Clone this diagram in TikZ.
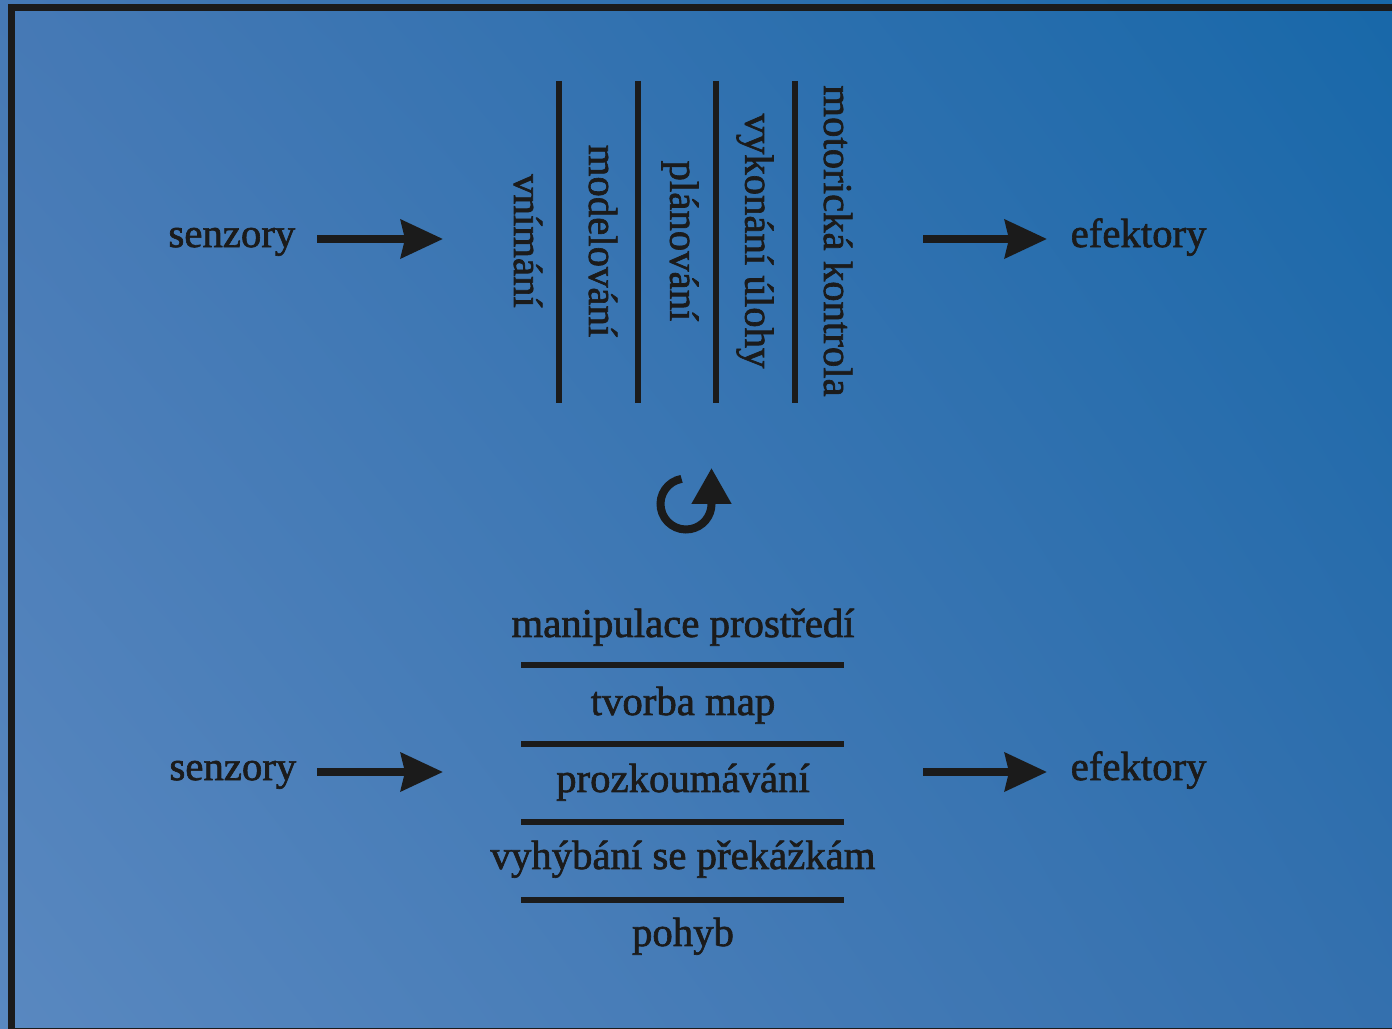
\documentclass[tikz,border=0pt]{standalone}
\usepackage{fontspec}
\setmainfont{Liberation Serif}[FakeBold=1.6]
\usetikzlibrary{arrows.meta,shadings}

\definecolor{ink}{RGB}{27,27,27}
\definecolor{bgTL}{RGB}{70,121,181}
\definecolor{bgTR}{RGB}{24,104,169}
\definecolor{bgBL}{RGB}{89,136,192}
\definecolor{bgBR}{RGB}{52,112,174}

\begin{document}
\begin{tikzpicture}[
    every node/.style={font=\fontsize{11.6}{14}\selectfont, text=ink, inner sep=0pt},
    lbl/.style={text height=1ex, text depth=0pt},
    vlbl/.style={rotate=-90},
    flow/.style={draw=ink, line width=0.08cm, -{Stealth[length=0.42cm, width=0.38cm, inset=0.04cm]}},
    sep/.style={draw=ink, line width=0.067cm},
  ]
  % pozadí
  \useasboundingbox (0,0) rectangle (13.92,10.28);
  \shade[upper left=bgTL, upper right=bgTR, lower left=bgBL, lower right=bgBR] (0,0) rectangle (13.92,10.28);

  % rámeček
  \draw[ink, line width=0.07cm] (14,10.20) -- (0.113,10.20) -- (0.113,-0.03) -- (14,-0.03);

  % horní schéma - vrstvy vedle sebe
  \node[lbl, anchor=east] (sen1) at (2.96,7.89) {senzory};
  \coordinate (in1) at (4.43,7.89);
  \draw[flow, shorten <=0.21cm] (sen1) -- (in1);

  \node[vlbl] (vnimani) at (5.28,7.87) {vnímání};
  \node[vlbl] (modelovani) at (6.03,7.87) {modelování};
  \node[vlbl] (planovani) at (6.80,7.87) {plánování};
  \node[vlbl] (vykonani) at (7.55,7.87) {vykonání úlohy};
  \node[vlbl] (motoricka) at (8.38,7.87) {motorická kontrola};
  \foreach \x in {5.59,6.38,7.16,7.95}
    \draw[sep] (\x,9.47) -- (\x,6.25);

  \coordinate (out1) at (9.23,7.89);
  \node[lbl, anchor=west] (eff1) at (10.70,7.89) {efektory};
  \draw[flow, shorten >=0.23cm] (out1) -- (eff1);

  % šipka přechodu
  \draw[ink, line width=0.08cm, -{Triangle[length=0.36cm, width=0.38cm]}]
    (6.86,5.24) ++(100:0.255) arc[start angle=100, end angle=360, radius=0.255] -- ++(0,0.36);

  % dolní schéma - vrstvy nad sebou
  \node[lbl, anchor=east] (sen2) at (2.97,2.56) {senzory};
  \coordinate (in2) at (4.43,2.56);
  \draw[flow, shorten <=0.20cm] (sen2) -- (in2);

  \node[anchor=base] (manipulace) at (6.83,3.91) {manipulace prostředí};
  \node[anchor=base] (tvorba) at (6.83,3.13) {tvorba map};
  \node[anchor=base] (prozkoum) at (6.83,2.36) {prozkoumávání};
  \node[anchor=base] (vyhybani) at (6.83,1.59) {vyhýbání se překážkám};
  \node[anchor=base] (pohyb) at (6.83,0.82) {pohyb};
  \foreach \y in {3.63,2.84,2.06,1.28}
    \draw[sep] (5.21,\y) -- (8.44,\y);

  \coordinate (out2) at (9.23,2.56);
  \node[lbl, anchor=west] (eff2) at (10.70,2.56) {efektory};
  \draw[flow, shorten >=0.23cm] (out2) -- (eff2);
\end{tikzpicture}
\end{document}
